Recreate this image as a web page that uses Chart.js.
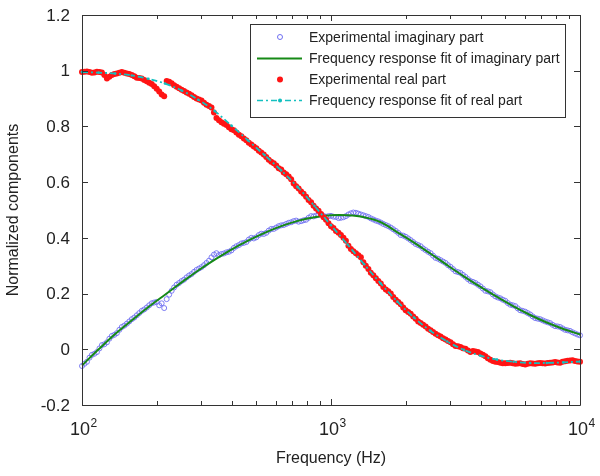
<!DOCTYPE html>
<html>
<head>
<meta charset="utf-8">
<script src="https://cdn.jsdelivr.net/npm/chart.js@4.4.1/dist/chart.umd.min.js"></script>
<style>
html,body{margin:0;padding:0;background:#fff;}
canvas{display:block;}
</style>
</head>
<body>
<canvas id="c" width="600" height="476"></canvas>
<script>
// ---- Data ----
const freqExp = [
100,102.3,104.7,107.2,109.6,112.2,114.8,117.5,120.2,123.0,
125.9,128.8,131.8,134.9,138.0,141.3,144.5,147.9,151.4,154.9,
158.5,162.2,166.0,169.8,173.8,177.8,182.0,186.2,190.5,195.0,
199.5,204.2,208.9,213.8,218.8,223.9,229.1,234.4,239.9,245.5,
251.2,257.0,263.0,269.2,275.4,281.8,288.4,295.1,302.0,309.0,
316.2,323.6,331.1,338.8,346.7,354.8,363.1,371.5,380.2,389.0,
398.1,407.4,416.9,426.6,436.5,446.7,457.1,467.7,478.6,489.8,
501.2,512.9,524.8,537.0,549.5,562.3,575.4,588.8,602.6,616.6,
631.0,645.7,660.7,676.1,691.8,707.9,724.4,741.3,758.6,776.2,
794.3,812.8,831.8,851.1,871.0,891.3,912.0,933.3,955.0,977.2,
1000,1023,1047,1072,1096,1122,1148,1175,1202,1230,
1259,1288,1318,1349,1380,1413,1445,1479,1514,1549,
1585,1622,1660,1698,1738,1778,1820,1862,1905,1950,
1995,2042,2089,2138,2188,2239,2291,2344,2399,2455,
2512,2570,2630,2692,2754,2818,2884,2951,3020,3090,
3162,3236,3311,3388,3467,3548,3631,3715,3802,3890,
3981,4074,4169,4266,4365,4467,4571,4677,4786,4898,
5012,5129,5248,5370,5495,5623,5754,5888,6026,6166,
6310,6457,6607,6761,6918,7079,7244,7413,7586,7762,
7943,8128,8318,8511,8710,8913,9120,9333,9550,9772,
10000];

const imagExp = [
-0.06,-0.052,-0.045,-0.03,-0.02,-0.016,-0.01,0.003,0.015,0.018,
0.025,0.038,0.048,0.052,0.058,0.07,0.08,0.085,0.092,0.1,
0.108,0.114,0.122,0.13,0.138,0.143,0.15,0.158,0.165,0.168,
0.17,0.158,0.165,0.148,0.18,0.196,0.21,0.222,0.232,0.238,
0.245,0.25,0.258,0.265,0.27,0.278,0.285,0.29,0.295,0.302,
0.31,0.318,0.33,0.34,0.345,0.338,0.342,0.344,0.348,0.35,
0.355,0.364,0.37,0.374,0.38,0.382,0.385,0.394,0.4,0.398,
0.402,0.41,0.415,0.414,0.418,0.426,0.432,0.432,0.437,0.442,
0.445,0.446,0.45,0.454,0.456,0.46,0.462,0.458,0.46,0.463,
0.465,0.472,0.478,0.477,0.48,0.483,0.484,0.479,0.476,0.478,
0.479,0.476,0.475,0.471,0.472,0.474,0.478,0.484,0.488,0.491,
0.49,0.487,0.484,0.481,0.478,0.475,0.47,0.466,0.462,0.459,
0.455,0.45,0.446,0.442,0.437,0.431,0.425,0.418,0.41,0.408,
0.404,0.398,0.392,0.385,0.378,0.374,0.37,0.362,0.356,0.35,
0.345,0.336,0.328,0.325,0.32,0.315,0.31,0.302,0.296,0.288,
0.28,0.277,0.274,0.267,0.26,0.252,0.245,0.242,0.238,0.232,
0.226,0.218,0.21,0.208,0.205,0.197,0.19,0.186,0.183,0.178,
0.174,0.166,0.16,0.158,0.155,0.147,0.14,0.138,0.135,0.13,
0.125,0.118,0.112,0.11,0.108,0.104,0.1,0.097,0.094,0.088,
0.083,0.082,0.08,0.075,0.07,0.068,0.066,0.061,0.057,0.053,
0.05];

const realExp = [
0.995,0.996,0.997,0.995,0.993,0.994,0.996,0.995,0.994,0.985,
0.972,0.978,0.985,0.988,0.99,0.993,0.995,0.993,0.99,0.988,
0.985,0.98,0.975,0.974,0.972,0.967,0.962,0.957,0.952,0.944,
0.935,0.925,0.915,0.908,0.963,0.96,0.955,0.948,0.942,0.937,
0.932,0.927,0.922,0.917,0.912,0.906,0.9,0.897,0.893,0.885,
0.878,0.873,0.868,0.85,0.83,0.822,0.815,0.81,0.805,0.797,
0.79,0.786,0.778,0.77,0.765,0.757,0.75,0.741,0.735,0.728,
0.722,0.713,0.706,0.699,0.69,0.68,0.673,0.668,0.66,0.65,
0.645,0.635,0.628,0.62,0.61,0.595,0.585,0.577,0.566,0.558,
0.548,0.536,0.528,0.515,0.505,0.497,0.486,0.474,0.465,0.452,
0.442,0.435,0.425,0.418,0.41,0.4,0.39,0.372,0.36,0.352,
0.345,0.338,0.33,0.312,0.3,0.288,0.275,0.266,0.255,0.245,
0.236,0.224,0.215,0.208,0.2,0.188,0.178,0.17,0.162,0.15,
0.14,0.134,0.128,0.118,0.11,0.1,0.094,0.088,0.082,0.074,
0.068,0.062,0.056,0.05,0.046,0.04,0.035,0.03,0.025,0.018,
0.012,0.011,0.008,0.004,0.002,-0.004,-0.01,-0.006,-0.008,-0.01,
-0.015,-0.02,-0.025,-0.032,-0.038,-0.042,-0.045,-0.046,-0.048,-0.05,
-0.05,-0.049,-0.048,-0.05,-0.052,-0.051,-0.05,-0.053,-0.055,-0.052,
-0.05,-0.051,-0.052,-0.05,-0.049,-0.05,-0.051,-0.049,-0.048,-0.047,
-0.046,-0.047,-0.048,-0.045,-0.043,-0.041,-0.04,-0.039,-0.042,-0.044,
-0.045];

const freqFit = [100,116.6,135.9,158.5,184.8,215.4,251.2,292.9,341.5,398.1,464.2,541.2,631.0,735.6,857.7,1000,1166,1359,1585,1848,2154,2512,2929,3415,3981,4642,5412,6310,7356,8577,10000];

const imagFit = [-0.058,0.0,0.055,0.104,0.152,0.196,0.24,0.283,0.322,0.358,0.39,0.418,0.442,0.461,0.474,0.481,0.481,0.474,0.456,0.42,0.383,0.343,0.302,0.262,0.224,0.188,0.154,0.123,0.096,0.073,0.053];

const realFit = [0.995,0.993,0.99,0.983,0.971,0.954,0.929,0.896,0.855,0.803,0.75,0.697,0.642,0.582,0.515,0.445,0.376,0.305,0.236,0.171,0.114,0.066,0.028,-0.002,-0.023,-0.037,-0.045,-0.049,-0.049,-0.047,-0.044];

const seriesNames = ['Experimental imaginary part','Frequency response fit of imaginary part','Experimental real part','Frequency response fit of real part'];
const xTickValues = [100, 1000, 10000];
const xTickExps = ['2','3','4'];

// ---- Styling ----
const FONT = '"Liberation Sans", Arial, Helvetica, sans-serif';
const C_BLUE = '#7070f2', C_GREEN = '#168a16', C_RED = '#ff1414', C_CYAN = '#14c0c0';

const pts = (xs, ys) => xs.map((x, i) => ({x, y: ys[i]}));
const fmtY = v => { const r = Math.round(v * 10) / 10; return r === 0 ? '0' : String(r); };

const minorTicks = [];
[100, 1000].forEach(d => { for (let m = 1; m <= 9; m++) minorTicks.push(d * m); });
minorTicks.push(10000);

const framePlugin = {
  id: 'frame',
  afterDatasetsDraw(chart) {
    const {ctx, chartArea: a, scales: {x, y}} = chart;
    ctx.save();
    ctx.strokeStyle = '#333';
    ctx.lineWidth = 1;
    ctx.beginPath();
    ctx.rect(Math.round(a.left) + 0.5, Math.round(a.top) + 0.5, Math.round(a.right - a.left), Math.round(a.bottom - a.top));
    ctx.stroke();
    ctx.beginPath();
    minorTicks.forEach(v => {
      const px = Math.round(x.getPixelForValue(v)) + 0.5;
      const major = xTickValues.includes(v);
      const len = major ? 6 : 4;
      ctx.moveTo(px, a.bottom); ctx.lineTo(px, a.bottom - len);
      ctx.moveTo(px, a.top); ctx.lineTo(px, a.top + len);
    });
    y.ticks.forEach(t => {
      const py = Math.round(y.getPixelForValue(t.value)) + 0.5;
      ctx.moveTo(a.left, py); ctx.lineTo(a.left + 6, py);
      ctx.moveTo(a.right, py); ctx.lineTo(a.right - 6, py);
    });
    ctx.stroke();
    // y tick labels
    ctx.fillStyle = '#222';
    ctx.font = '17px ' + FONT;
    ctx.textAlign = 'right';
    ctx.textBaseline = 'middle';
    y.ticks.forEach(t => {
      ctx.fillText(fmtY(t.value), a.left - 12, y.getPixelForValue(t.value) + 1);
    });
    // x tick labels with superscript
    ctx.textBaseline = 'alphabetic';
    ctx.textAlign = 'left';
    xTickValues.forEach((v, i) => {
      const px = x.getPixelForValue(v);
      ctx.font = '18px ' + FONT;
      const w10 = ctx.measureText('10').width;
      const sx = px - w10 / 2 - 2;
      ctx.fillText('10', sx, 435);
      ctx.font = '12px ' + FONT;
      ctx.fillText(xTickExps[i], sx + w10 + 0.5, 427);
    });
    // legend
    const bx = 250.5, by = 24.5, bw = 315, bh = 93;
    ctx.fillStyle = '#fff';
    ctx.fillRect(bx, by, bw, bh);
    ctx.strokeStyle = '#333';
    ctx.strokeRect(bx, by, bw, bh);
    const rows = [37, 58.5, 79.5, 100.5];
    const sx0 = 257, sx1 = 302, mx = 280, tx = 309;
    ctx.beginPath(); ctx.arc(mx, rows[0], 2.5, 0, Math.PI * 2);
    ctx.strokeStyle = C_BLUE; ctx.lineWidth = 1; ctx.stroke();
    ctx.beginPath(); ctx.moveTo(sx0, rows[1]); ctx.lineTo(sx1, rows[1]);
    ctx.strokeStyle = C_GREEN; ctx.lineWidth = 2; ctx.stroke();
    ctx.beginPath(); ctx.arc(mx, rows[2], 3, 0, Math.PI * 2);
    ctx.fillStyle = C_RED; ctx.fill();
    ctx.beginPath(); ctx.setLineDash([6, 3, 2, 3]); ctx.moveTo(sx0, rows[3]); ctx.lineTo(sx1, rows[3]);
    ctx.strokeStyle = C_CYAN; ctx.lineWidth = 1.5; ctx.stroke(); ctx.setLineDash([]);
    ctx.beginPath(); ctx.arc(mx, rows[3], 2, 0, Math.PI * 2); ctx.fillStyle = C_CYAN; ctx.fill();
    ctx.fillStyle = '#222';
    ctx.font = '14px ' + FONT;
    ctx.textBaseline = 'middle';
    seriesNames.forEach((s, i) => ctx.fillText(s, tx, rows[i] + 1));
    ctx.restore();
  }
};

new Chart(document.getElementById('c'), {
  type: 'line',
  data: {
    datasets: [
      {label: seriesNames[3], data: pts(freqFit, realFit), borderColor: C_CYAN, backgroundColor: C_CYAN,
       borderWidth: 1.8, borderDash: [6, 3, 2, 3], pointRadius: 1.3, pointBorderWidth: 0, tension: 0.35, order: 0, clip: 6},
      {label: seriesNames[2], data: pts(freqExp, realExp), showLine: false, pointRadius: 3, pointBorderWidth: 0,
       backgroundColor: C_RED, borderColor: C_RED, order: 1, clip: 6},
      {label: seriesNames[1], data: pts(freqFit, imagFit), borderColor: C_GREEN, borderWidth: 2, pointRadius: 0,
       tension: 0.35, order: 2, clip: 6},
      {label: seriesNames[0], data: pts(freqExp, imagExp), showLine: false, pointRadius: 2.5, pointBorderWidth: 0.9,
       borderColor: C_BLUE, backgroundColor: 'rgba(0,0,0,0)', order: 3, clip: 6}
    ]
  },
  options: {
    responsive: false,
    animation: false,
    events: [],
    layout: {padding: {left: 0, right: 20, top: 15, bottom: 0}},
    plugins: {legend: {display: false}, tooltip: {enabled: false}},
    scales: {
      x: {
        type: 'logarithmic', min: 100, max: 10000,
        grid: {display: false, drawTicks: false}, border: {display: false},
        ticks: {display: false},
        title: {display: true, text: 'Frequency (Hz)', color: '#222', font: {family: FONT, size: 16}, padding: {top: 0, bottom: 8}},
        afterFit(s) { s.height = 71; }
      },
      y: {
        min: -0.2, max: 1.2,
        grid: {display: false, drawTicks: false}, border: {display: false},
        ticks: {display: false, stepSize: 0.2},
        title: {display: true, text: 'Normalized components', color: '#222', font: {family: FONT, size: 16}, padding: {top: 4, bottom: 4}},
        afterFit(s) { s.width = 82; }
      }
    }
  },
  plugins: [framePlugin]
});
</script>
</body>
</html>
